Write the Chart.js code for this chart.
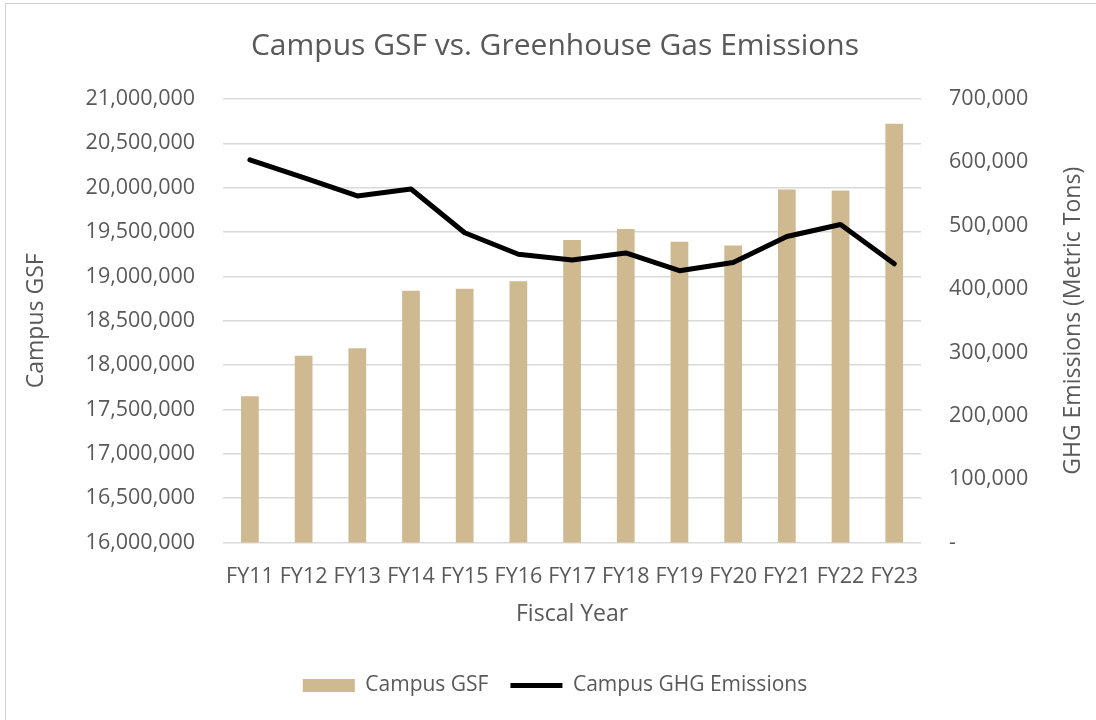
<!DOCTYPE html>
<html>
<head>
<meta charset="utf-8">
<title>Campus GSF vs. Greenhouse Gas Emissions</title>
<script src="https://cdn.jsdelivr.net/npm/chart.js@4"></script>
<style>
  html, body { margin: 0; padding: 0; background: #fff; }
  #frame {
    position: absolute; left: 5px; top: 3px; width: 1091px; height: 717px;
    border-left: 1.5px solid #d0d0d0; border-top: 1.5px solid #d0d0d0;
    box-sizing: border-box;
  }
  #wrap { position: absolute; left: 0; top: 0; width: 1096px; height: 720px; }
</style>
</head>
<body>
<div id="frame"></div>
<div id="wrap"><canvas id="chart" width="1096" height="720"></canvas></div>
<script>
// Dados
const anos = ["FY11", "FY12", "FY13", "FY14", "FY15", "FY16", "FY17", "FY18", "FY19", "FY20", "FY21", "FY22", "FY23"];
const campusGSF = [17650000, 18105000, 18190000, 18840000, 18860000, 18945000, 19410000, 19535000, 19390000, 19350000, 19980000, 19970000, 20720000];
const emissoesGHG = [604000, 576000, 547000, 558000, 489000, 455000, 446000, 457000, 429000, 442000, 483000, 502000, 440000];

const corTexto = '#595959';
const fonte = "'Open Sans', sans-serif";
const tamTitulo = 23;

function formatar(v) {
    return v.toLocaleString('en-US');
}

// Título do eixo direito, escrito de baixo para cima como no Excel
const tituloDireito = {
    id: 'tituloDireito',
    afterDraw(chart) {
        const escala = chart.scales.y1;
        const c = chart.ctx;
        c.save();
        c.translate(escala.right - tamTitulo * 1.2 / 2 - 3, (escala.top + escala.bottom) / 2);
        c.rotate(-Math.PI / 2);
        c.fillStyle = corTexto;
        c.font = tamTitulo + "px " + fonte;
        c.textAlign = 'center';
        c.textBaseline = 'middle';
        c.fillText('GHG Emissions (Metric Tons)', 0, 0);
        c.restore();
    }
};

const ctx = document.getElementById('chart').getContext('2d');
new Chart(ctx, {
    type: 'bar',
    data: {
        labels: anos,
        datasets: [{
            label: 'Campus GSF',
            data: campusGSF,
            backgroundColor: '#CFB991',
            borderWidth: 0,
            barPercentage: 1,
            categoryPercentage: 0.33,
            yAxisID: 'y',
            order: 1,
            pointStyle: 'rect'
        }, {
            type: 'line',
            label: 'Campus GHG Emissions',
            data: emissoesGHG,
            borderColor: '#000000',
            backgroundColor: '#000000',
            borderWidth: 5,
            borderCapStyle: 'round',
            borderJoinStyle: 'round',
            tension: 0,
            pointRadius: 0,
            yAxisID: 'y1',
            order: 0,
            pointStyle: 'line'
        }]
    },
    options: {
        responsive: false,
        animation: false,
        layout: { padding: { left: 20, right: 6, top: 22, bottom: 14 } },
        plugins: {
            title: {
                display: true,
                text: 'Campus GSF vs. Greenhouse Gas Emissions',
                color: corTexto,
                font: { family: fonte, size: 30, weight: 'normal' },
                padding: { top: 6, bottom: 35 }
            },
            legend: {
                position: 'bottom',
                labels: {
                    color: corTexto,
                    font: { family: fonte, size: 21 },
                    usePointStyle: true,
                    pointStyleWidth: 52,
                    boxHeight: 13,
                    padding: 22,
                    sort: (a, b) => a.datasetIndex - b.datasetIndex
                }
            },
            tooltip: { enabled: false }
        },
        scales: {
            x: {
                grid: { display: false },
                border: { display: false },
                ticks: { color: corTexto, font: { family: fonte, size: 21.5 }, padding: 13, maxRotation: 0, autoSkip: false },
                title: {
                    display: true, text: 'Fiscal Year', color: corTexto,
                    font: { family: fonte, size: tamTitulo }, padding: { top: -2, bottom: 25 }
                }
            },
            y: {
                position: 'left',
                min: 16000000,
                max: 21000000,
                grid: { color: '#d9d9d9', lineWidth: 1.5, drawTicks: false },
                border: { display: false },
                ticks: { stepSize: 500000, color: corTexto, font: { family: fonte, size: 21.5 }, padding: 28, callback: v => formatar(v) },
                title: {
                    display: true, text: 'Campus GSF', color: corTexto,
                    font: { family: fonte, size: tamTitulo }, padding: { top: 3, bottom: 7 }
                }
            },
            y1: {
                position: 'right',
                min: 0,
                max: 700000,
                grid: { display: false, drawTicks: false },
                border: { display: false },
                ticks: { stepSize: 100000, color: corTexto, font: { family: fonte, size: 21.5 }, padding: 28,
                         callback: v => v === 0 ? '-' : formatar(v) },
                title: {
                    display: true, text: 'GHG Emissions (Metric Tons)', color: 'rgba(0,0,0,0)',
                    font: { family: fonte, size: tamTitulo }, padding: { top: 3, bottom: 3 }
                }
            }
        }
    },
    plugins: [tituloDireito]
});
</script>
</body>
</html>
